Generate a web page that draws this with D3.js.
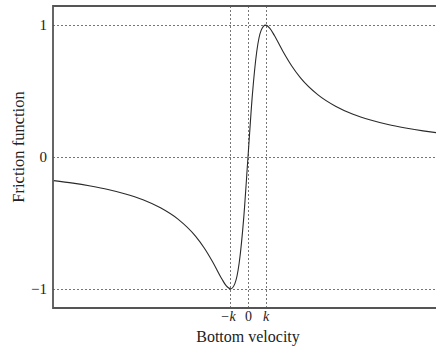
<!DOCTYPE html>
<html>
<head>
<meta charset="utf-8">
<script src="https://cdn.jsdelivr.net/npm/d3@7"></script>
<style>
  html, body { margin: 0; padding: 0; background: #fff; }
  svg { display: block; }
  text { font-family: "Liberation Serif", "DejaVu Serif", serif; fill: #222; }
</style>
</head>
<body>
<svg id="chart" width="436" height="347"></svg>
<script>
// Bottom velocity in units of k
const velocity = [-11.1, -10, -9, -8, -7, -6, -5, -4, -3, -2.5, -2, -1.5, -1.25, -1, -0.75, -0.5, -0.25, 0,
                  0.25, 0.5, 0.75, 1, 1.25, 1.5, 2, 2.5, 3, 4, 5, 6, 7, 8, 9, 10, 11.1];
// Friction function values
const friction = [-0.179, -0.198, -0.220, -0.246, -0.280, -0.324, -0.385, -0.471, -0.600, -0.690, -0.800, -0.923, -0.976, -1.000, -0.960, -0.800, -0.471, 0,
                  0.471, 0.800, 0.960, 1.000, 0.976, 0.923, 0.800, 0.690, 0.600, 0.471, 0.385, 0.324, 0.280, 0.246, 0.220, 0.198, 0.179];
const xTickValues = [-1, 0, 1];
const xTickLabels = ["−k", "0", "k"];
const yTickValues = [-1, 0, 1];
const yTickLabels = ["−1", "0", "1"];
const xTitle = "Bottom velocity";
const yTitle = "Friction function";

(function () {
const svg = d3.select("#chart");
const mLeft = 53, mRight = 443, mTop = 6, mBottom = 308;
const x = d3.scaleLinear().domain([-11.14, 11.14]).range([mLeft, mRight]);
const y = d3.scaleLinear().domain([-1.145, 1.145]).range([mBottom, mTop]);

const data = velocity.map((v, i) => ({ v, f: friction[i] }));

// Grid lines (dotted)
const grid = svg.append("g").attr("stroke", "#666").attr("stroke-width", 0.9).attr("stroke-dasharray", "2,2");
grid.selectAll("line.h").data(yTickValues).join("line").attr("class", "h")
  .attr("x1", mLeft).attr("x2", mRight)
  .attr("y1", d => Math.round(y(d)) + 0.5).attr("y2", d => Math.round(y(d)) + 0.5);
grid.selectAll("line.v").data(xTickValues).join("line").attr("class", "v")
  .attr("x1", d => Math.round(x(d)) + 0.5).attr("x2", d => Math.round(x(d)) + 0.5)
  .attr("y1", mTop).attr("y2", mBottom);

// Curve
const line = d3.line().x(d => x(d.v)).y(d => y(d.f)).curve(d3.curveMonotoneX);
svg.append("path").datum(data)
  .attr("fill", "none").attr("stroke", "#2a2a2a").attr("stroke-width", 1.1)
  .attr("d", line);

// Frame: left, top, bottom
const frame = svg.append("g").attr("stroke", "#555").attr("stroke-width", 1.8).attr("fill", "none");
frame.append("path").attr("d", `M${mRight},${mTop}H${mLeft}V${mBottom}H${mRight}`);

// Axes using d3 axis generators for tick labels
const yAxis = d3.axisLeft(y).tickValues(yTickValues).tickSize(0).tickPadding(6)
  .tickFormat((d, i) => yTickLabels[i]);
const gy = svg.append("g").attr("transform", `translate(${mLeft},0)`).call(yAxis);
gy.select(".domain").remove();
gy.selectAll("text").style("font-size", "15px").style("font-family", "Liberation Serif, serif").attr("fill", "#222");

const xAxis = d3.axisBottom(x).tickValues(xTickValues).tickSize(0).tickPadding(3)
  .tickFormat((d, i) => xTickLabels[i]);
const gx = svg.append("g").attr("transform", `translate(0,${mBottom})`).call(xAxis);
gx.select(".domain").remove();
gx.selectAll("text").style("font-size", "14px").style("font-family", "Liberation Serif, serif").attr("fill", "#222")
  .style("font-style", (d, i) => xTickLabels[i] === "0" ? "normal" : "italic")
  .attr("dx", (d, i) => i === 0 ? -3 : 0);

// Titles
svg.append("text").attr("x", 248).attr("y", 342).attr("text-anchor", "middle")
  .style("font-size", "16px").text(xTitle);
svg.append("text").attr("transform", `translate(24,147) rotate(-90)`).attr("text-anchor", "middle")
  .style("font-size", "16.5px").text(yTitle);
})();
</script>
</body>
</html>
